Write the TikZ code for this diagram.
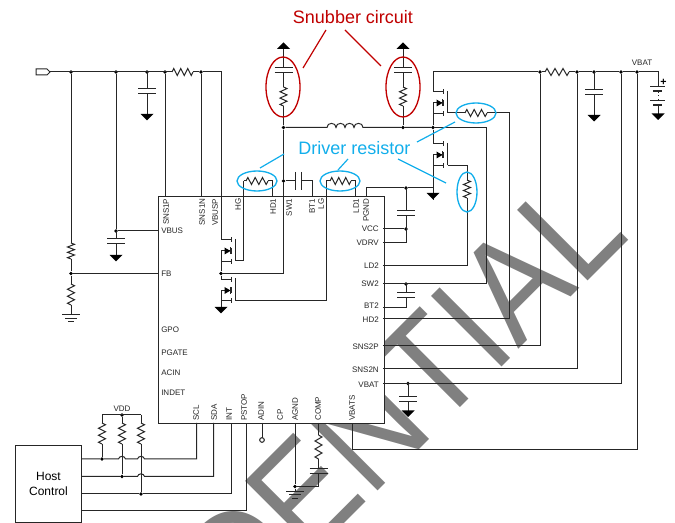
\documentclass[tikz,border=0pt]{standalone}
\usepackage{fontspec}
\usepackage{graphicx}
\setmainfont{Liberation Sans}
\usetikzlibrary{calc}
\definecolor{wirec}{HTML}{262626}
\definecolor{redc}{HTML}{C00000}
\definecolor{cyanc}{HTML}{12AEEB}
\definecolor{markc}{HTML}{808080}
\tikzset{
  wire/.style={draw=wirec,line width=0.75pt,line join=miter},
  dotn/.style={circle,fill=black,inner sep=0pt,minimum size=2.8pt},
  pinl/.style={font=\fontsize{6}{7}\selectfont,text=wirec,inner sep=0pt},
  pinv/.style={pinl,rotate=90},
  redring/.style={draw=redc,line width=1pt},
  bluering/.style={draw=cyanc,line width=1pt},
  redlead/.style={draw=redc,line width=0.9pt},
  bluelead/.style={draw=cyanc,line width=0.9pt},
  callout/.style={font=\fontsize{13.5}{15}\selectfont,inner sep=0pt},
}
% horizontal / vertical resistor
\newcommand{\hres}[3]{\draw[wire] (#2,#1) -- ++({(#3-#2)/12},-3.5) -- ++({(#3-#2)/6},7) -- ++({(#3-#2)/6},-7) -- ++({(#3-#2)/6},7) -- ++({(#3-#2)/6},-7) -- ++({(#3-#2)/6},7) -- ++({(#3-#2)/12},-3.5);}
\newcommand{\vres}[3]{\draw[wire] (#1,#2) -- ++(3.5,{(#3-#2)/12}) -- ++(-7,{(#3-#2)/6}) -- ++(7,{(#3-#2)/6}) -- ++(-7,{(#3-#2)/6}) -- ++(7,{(#3-#2)/6}) -- ++(-7,{(#3-#2)/6}) -- ++(3.5,{(#3-#2)/12});}
% vertical-lead capacitor: x, from y, first plate y, to y
\newcommand{\vcapw}[4]{\draw[wire] (#1,#2) -- (#1,#3) (#1-9,#3) -- (#1+9,#3) (#1-9,#3+4.7) -- (#1+9,#3+4.7) (#1,#3+4.7) -- (#1,#4);}
% triangles and earth
\newcommand{\gnd}[2]{\fill[black] (#1-6.5,#2) -- (#1+6.5,#2) -- (#1,#2+6.5) -- cycle;}
\newcommand{\vup}[2]{\fill[black] (#1-6.5,#2) -- (#1+6.5,#2) -- (#1,#2-6.5) -- cycle;}
\newcommand{\earth}[2]{\draw[wire] (#1-9,#2) -- (#1+9,#2) (#1-6,#2+3.5) -- (#1+6,#2+3.5) (#1-3,#2+7) -- (#1+3,#2+7);}
% MOSFET: rail x, drain y
\newcommand{\nmos}[2]{
  \draw[wire] (#1,#2) -- (#1+10.5,#2) (#1,#2+11) -- (#1+10.5,#2+11) (#1,#2+21.5) -- (#1+10.5,#2+21.5) (#1,#2+11) -- (#1,#2+21.5);
  \draw[wire] (#1+10.5,#2-2.5) -- (#1+10.5,#2+2.5) (#1+10.5,#2+8) -- (#1+10.5,#2+14) (#1+10.5,#2+19) -- (#1+10.5,#2+24);
  \draw[wire] (#1+14.5,#2-1) -- (#1+14.5,#2+21.5);
  \fill[black] (#1+3.5,#2+7.5) -- (#1+9.5,#2+11) -- (#1+3.5,#2+14.5) -- cycle;
  \draw[wire] (#1+9.5,#2+7.5) -- (#1+9.5,#2+14.5);
}
\begin{document}
\begin{tikzpicture}[x=0.75pt,y=-0.75pt]
\useasboundingbox (0,0) rectangle (675,523);
% watermark, cut off by the page
\begin{scope}
\clip (0,0) rectangle (675,523);
\node[rotate=45,anchor=base east,inner sep=0pt,text=markc,font=\fontsize{108.75}{110}\selectfont] (mark) at (632,236.5) {\scalebox{0.9}[1]{CONFIDENTIAL}};
\end{scope}

% IC
\node[draw=wirec,fill=white,line width=0.75pt,minimum width=169.5pt,minimum height=170.25pt,inner sep=0pt,anchor=north west] (ic) at (157.5,196) {};

% pins on the IC edge
\coordinate (pSNSP) at (165,196);
\coordinate (pSNSN) at (201,196);
\coordinate (pHD) at (272,196);
\coordinate (pBT) at (312,196);
\coordinate (pLD) at (355,196);
\coordinate (pPG) at (366,196);
\coordinate (pVBUS) at (157.5,231);
\coordinate (pFB) at (157.5,273.5);
\coordinate (pVCC) at (383,229);
\coordinate (pVDRV) at (383,243);
\coordinate (pLD2) at (383,266);
\coordinate (pSW2) at (383,284);
\coordinate (pBT2) at (383,308);
\coordinate (pHD2) at (383,319);
\coordinate (pS2P) at (383,345.5);
\coordinate (pS2N) at (383,368.5);
\coordinate (pVB) at (383,383.5);
\coordinate (pVBS) at (352,423);
\coordinate (pSCL) at (196.5,423);
\coordinate (pSDA) at (213.5,423);
\coordinate (pINT) at (231,423);
\coordinate (pPS) at (246.5,423);
\coordinate (pADIN) at (262,423);
\coordinate (pAG) at (295,423);
\coordinate (pCOMP) at (318.5,423);

% junctions
\node[dotn] (j71) at (71,72) {};
\node[dotn] (j116) at (116,72) {};
\node[dotn] (j147) at (147,72) {};
\node[dotn] (j165) at (165,72) {};
\node[dotn] (j201) at (201,72) {};
\node[dotn] (jFB) at (71,273.5) {};
\node[dotn] (jVB) at (116,231) {};
\node[dotn] (jL) at (283.5,127.5) {};
\node[dotn] (jR) at (403,127.5) {};
\node[dotn] (jM) at (433,127.5) {};
\node[dotn] (jSW) at (283.5,181) {};
\node[dotn] (jSWL) at (221,273.5) {};
\node[dotn] (jPG) at (406,188) {};
\node[dotn] (jVCC) at (406,229) {};
\node[dotn] (jSW2) at (406,284) {};
\node[dotn] (jVBc) at (408,383.5) {};
\node[dotn] (j540) at (540,72) {};
\node[dotn] (j577) at (577,72) {};
\node[dotn] (j594) at (594,72) {};
\node[dotn] (j621) at (621,72) {};
\node[dotn] (j637) at (637,72) {};
\node[dotn] (jV1) at (102,459) {};
\node[dotn] (jV2) at (122,476.5) {};
\node[dotn] (jV3) at (141,494) {};
\node[dotn] (jVDD) at (122,415) {};
\node[dotn] (jAG) at (295,486.5) {};

% input rail
\draw[wire] (36,69) -- (47,69) -- (50,72) -- (47,75) -- (36,75) -- cycle;
\coordinate (rA) at (172,72);
\coordinate (rB) at (193,72);
\draw[wire] (50,72) -- (rA) (rB) -- (j201) -- (221,72) -- (221,240);
\hres{72}{172}{193}
\draw[wire] (j71) -- (71,243);
\vres{71}{243}{259}
\draw[wire] (71,259) -- (jFB) -- (71,284);
\vres{71}{284}{305}
\draw[wire] (71,305) -- (71,315);
\earth{71}{315}
\draw[wire] (jFB) -- (pFB);
\draw[wire] (j116) -- (jVB) -- (pVBUS);
\vcapw{116}{231}{239}{256}
\gnd{116}{255}
\vcapw{147}{72}{88.5}{114}
\gnd{147}{114}
\draw[wire] (j165) -- (pSNSP) (j201) -- (pSNSN);

% MOSFETs, left
\nmos{221}{240}
\nmos{221}{279.5}
\draw[wire] (221,262) -- (jSWL) -- (221,279.5);
\draw[wire] (221,301) -- (221,307);
\gnd{221}{307}
\draw[wire] (jSWL) -| (jSW);
\draw[wire] (235,261) -- (243.5,261) -- (243.5,181);
\draw[wire] (235,301) -- (326,301) -- (326,181);

% driver resistors at the top of the IC
\hres{181}{246}{268}
\draw[wire] (243.5,181) -- (246,181) (268,181) -- (272,181) -- (pHD);
\hres{181}{330}{351}
\draw[wire] (326,181) -- (330,181) (351,181) -- (355,181) -- (pLD);

% SW1 cap
\draw[wire] (jSW) -- (295.5,181) (295.5,172) -- (295.5,190) (301,172) -- (301,190) (301,181) -- (312,181) -- (pBT);
\draw[wire] (jL) -- (jSW);

% snubbers
\vcapw{283.5}{49}{68}{87}
\vres{283.5}{87}{106}
\draw[wire] (283.5,106) -- (jL);
\vup{283.5}{49}
\vcapw{403}{49}{68}{87}
\vres{403}{87}{106}
\draw[wire] (403,106) -- (jR);
\vup{403}{49}

% inductor
\draw[wire] (jL) -- (327,127.5)
  .. controls (327,122) and (336,122) .. (336,127.5)
  .. controls (336,122) and (345,122) .. (345,127.5)
  .. controls (345,122) and (354,122) .. (354,127.5)
  .. controls (354,122) and (363,122) .. (363,127.5) -- (jR) -- (jM);

% MOSFETs, right
\nmos{433}{92}
\nmos{433}{144}
\draw[wire] (j540) -- (433,72) -- (433,92);
\draw[wire] (433,113.5) -- (jM) -- (433,144);
\draw[wire] (433,165.5) -- (433,200);
\gnd{433}{193}
\draw[wire] (447.5,113) -- (465,113) (487,113) -- (509,113) -- (509,319) -- (pHD2);
\hres{113}{465}{487}
\draw[wire] (447.5,165.5) -- (467,165.5) -- (467,180);
\vres{467}{180}{198}
\draw[wire] (467,198) -- (467,266) -- (pLD2);
\draw[wire] (jM) -- (486,127.5) -- (486,284) -- (pSW2);

% PGND / VCC
\draw[wire] (pPG) -- (366,188) -- (jPG) -- (433,188);
\vcapw{406}{188}{211}{243}
\draw[wire] (pVCC) -- (jVCC) (pVDRV) -- (406,243);

% SW2 cap
\vcapw{406}{284}{293}{308}
\draw[wire] (pBT2) -- (406,308);

% battery side rail
\draw[wire] (j540) -- (545,72);
\hres{72}{545}{569}
\draw[wire] (569,72) -- (j577) -- (j594) -- (j621) -- (j637) -- (658,72) -- (658,86);
\vcapw{594}{72}{90}{115}
\gnd{594}{115}
\draw[wire] (j540) |- (pS2P);
\draw[wire] (j577) |- (pS2N);
\draw[wire] (j621) |- (pVB);
\draw[wire] (j637) -- (637,449.5) -- (352,449.5) -- (pVBS);

% battery
\draw[wire] (650,86.5) -- (665,86.5) (650,100.5) -- (665,100.5);
\draw[line width=1.6pt,wirec] (653,91) -- (662,91) (653,105) -- (662,105);
\draw[wirec,line width=0.6pt,dotted] (658,92) -- (658,100);
\draw[wire] (658,105) -- (658,114);
\gnd{658}{113.5}
\node[font=\bfseries\fontsize{8}{9}\selectfont,inner sep=0pt] (plus) at (663.5,82) {+};

% output cap
\vcapw{408}{383.5}{397}{411}
\gnd{408}{410.5}

% bottom pins
\node[draw=wirec,fill=white,line width=0.75pt,minimum width=49.5pt,minimum height=57.75pt,inner sep=0pt,anchor=north west,align=center,font=\fontsize{9}{11.5}\selectfont] (host) at (15,445) {Host\\Control};
\draw[wire] (81,459) -- (jV1) -- (118.5,459)
 .. controls (119,455.5) and (125,455.5) .. (125.5,459) -- (137.5,459)
 .. controls (138,455.5) and (144,455.5) .. (144.5,459) -- (196.5,459) -- (pSCL);
\draw[wire] (81,476.5) -- (jV2) -- (137.5,476.5)
 .. controls (138,473) and (144,473) .. (144.5,476.5) -- (213.5,476.5) -- (pSDA);
\draw[wire] (81,494) -- (jV3) -- (231,494) -- (pINT);
\draw[wire] (81,511) -- (246.5,511) -- (pPS);
\draw[wire] (102,415) -- (141,415);
\draw[wire] (102,415) -- (102,423);
\vres{102}{423}{444}
\draw[wire] (102,444) -- (jV1);
\draw[wire] (jVDD) -- (122,423);
\vres{122}{423}{444}
\draw[wire] (122,444) -- (jV2);
\draw[wire] (141,415) -- (141,423);
\vres{141}{423}{444}
\draw[wire] (141,444) -- (jV3);

% ADIN, AGND, COMP
\draw[wire] (pADIN) -- (262,438);
\node[draw=wirec,line width=0.75pt,fill=white,circle,inner sep=0pt,minimum size=3.5pt] (adin) at (262,440) {};
\draw[wire] (pAG) -- (jAG) -- (295,491.5);
\earth{295}{491.5}
\draw[wire] (pCOMP) -- (318.5,435);
\vres{318.5}{435}{459}
\vcapw{318.5}{459}{469}{486.5}
\draw[wire] (318.5,486.5) -- (jAG);

% pin labels
\foreach \n/\t/\x in {a/SNS1P/166,b/SNS1N/202,c/VBUSP/215,d/HG/238,e/HD1/273,f/SW1/289,g/BT1/312,h/LG/321,i/LD1/356,j/PGND/366}
  \node[pinv,anchor=east] (top\n) at (\x,198.5) {\t};
\foreach \n/\t/\x in {a/SCL/196,b/SDA/214,c/INT/229,d/PSTOP/244,e/ADIN/261,f/CP/280,g/AGND/295,h/COMP/318,i/VBATS/352}
  \node[pinv,anchor=west] (bot\n) at (\x,421) {\t};
\foreach \n/\t/\y in {a/VBUS/231,b/FB/274,c/GPO/330,d/PGATE/353,e/ACIN/373,f/INDET/393}
  \node[pinl,anchor=west] (lft\n) at (161,\y) {\t};
\foreach \n/\t/\y in {a/VCC/229,b/VDRV/243,c/LD2/266,d/SW2/284,e/BT2/306,f/HD2/320,g/SNS2P/347,h/SNS2N/370,i/VBAT/385}
  \node[pinl,anchor=east] (rgt\n) at (379,\y) {\t};
\node[pinl] (lblVDD) at (122,409) {VDD};
\node[pinl] (lblVBAT) at (642,62.5) {VBAT};

% callouts
\node[callout,text=redc] (snub) at (353,17) {Snubber circuit};
\node[callout,text=cyanc] (driver) at (354.5,148) {Driver resistor};
\draw[redring] (283,87) ellipse [x radius=17,y radius=30];
\draw[redring] (403,87) ellipse [x radius=17,y radius=30];
\draw[bluering] (257,181) ellipse [x radius=20,y radius=10];
\draw[bluering] (340,181) ellipse [x radius=20,y radius=10];
\draw[bluering] (476,113) ellipse [x radius=20,y radius=10];
\draw[bluering] (467,192) ellipse [x radius=10,y radius=20];
\coordinate (s1) at (326,30);
\coordinate (s2) at (303,68);
\coordinate (s3) at (345,30);
\coordinate (s4) at (381,66);
\draw[redlead] (s1) -- (s2) (s3) -- (s4);
\coordinate (d1) at (284,154);
\coordinate (d2) at (260,168);
\coordinate (d3) at (348,159);
\coordinate (d4) at (338,170);
\coordinate (d5) at (455,122);
\coordinate (d6) at (417,142);
\coordinate (d7) at (398,159);
\coordinate (d8) at (446,183);
\draw[bluelead] (d1) -- (d2) (d3) -- (d4) (d5) -- (d6) (d7) -- (d8);
\end{tikzpicture}
\end{document}
